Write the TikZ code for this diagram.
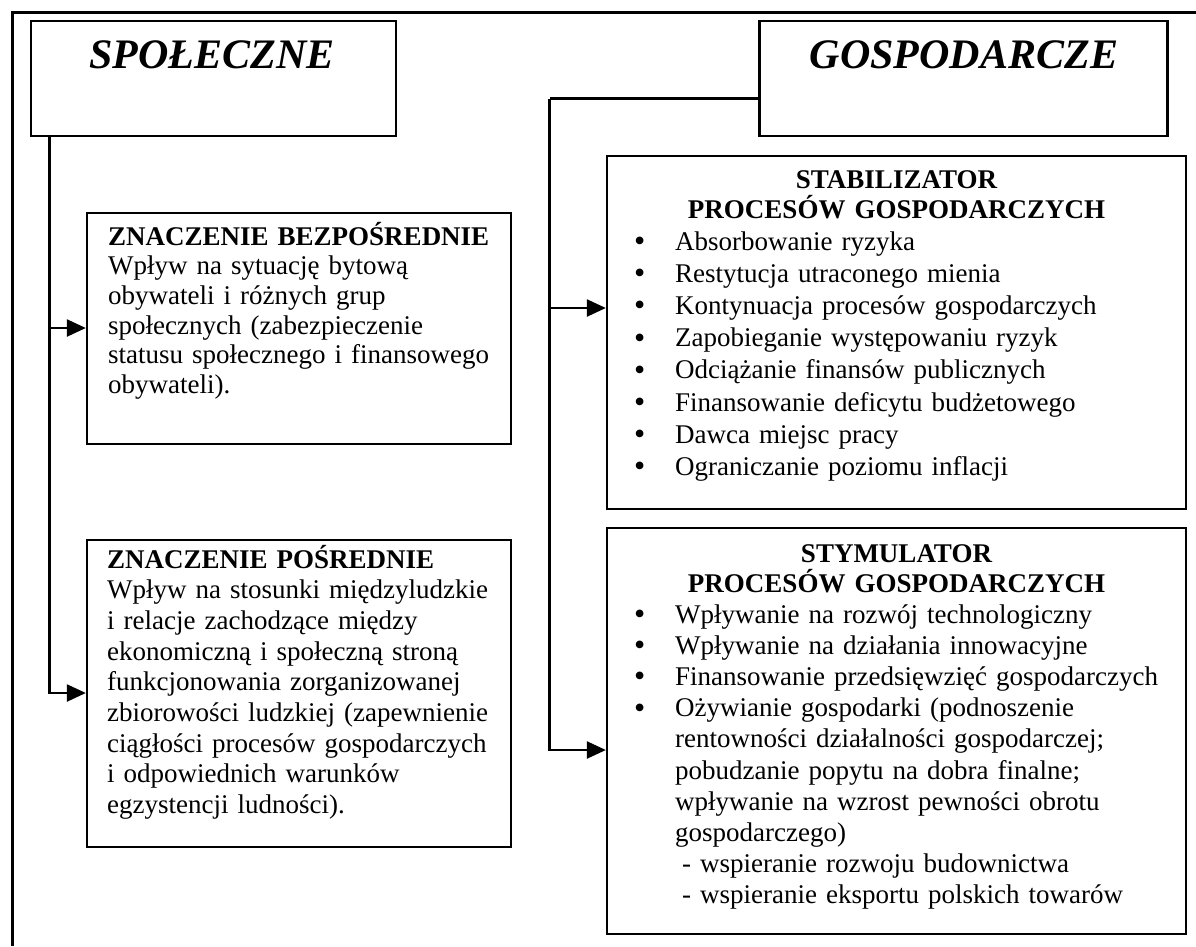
\documentclass[tikz,border=0pt]{standalone}
\usepackage{fontspec}
\setmainfont{Liberation Serif}
\usetikzlibrary{arrows.meta}
\newcommand\mybul{\makebox[41pt][l]{\fontsize{32}{31}\selectfont\raisebox{-1.5pt}{•}}}
\begin{document}
\begin{tikzpicture}[x=1pt,y=-1pt,
  ln/.style={line width=2.3pt},
  box/.style={draw, line width=2.3pt, inner sep=0pt},
  arr/.style={line width=2.3pt, -{Triangle[length=19pt,width=17pt]}},
  head/.style={font=\fontsize{42}{48}\selectfont\bfseries\itshape, inner sep=0pt, anchor=base},
  body/.style={font=\fontsize{27}{#1}\selectfont, inner sep=0pt, anchor=base west, align=left, text width=540pt},
  ttl/.style={font=\fontsize{27}{30}\selectfont\bfseries, inner sep=0pt, anchor=base, align=center, text width=560pt},
]
\useasboundingbox (0,0) rectangle (1196,946);
% outer frame (right and bottom edges lie outside the picture)
\coordinate (fbl) at (12.5,946);
\coordinate (ftl) at (12.5,12.5);
\coordinate (ftr) at (1196,12.5);
\draw[ln] (fbl) -- (ftl) -- (ftr);

% boxes
\node[box, minimum width=365pt, minimum height=115pt] (spol) at (213.3,78.5) {};
\node[box, minimum width=408pt, minimum height=115pt] (gosp) at (963.5,78.5) {};
\node[box, minimum width=424pt, minimum height=231pt] (bez) at (299,328.5) {};
\node[box, minimum width=424pt, minimum height=307pt] (pos) at (299,693.5) {};
\node[box, minimum width=579pt, minimum height=353pt] (stab) at (896.5,332.5) {};
\node[box, minimum width=579pt, minimum height=406pt] (sty) at (896.5,731) {};

% headers
\node[head] (spolt) at (212,68) {SPOŁECZNE};
\node[head] (gospt) at (964,68) {GOSPODARCZE};

% left texts
\node[body=29.7] (bezt) at (108,245) {\textbf{ZNACZENIE BEZPOŚREDNIE}\\
Wpływ na sytuację bytową\\
obywateli i różnych grup\\
społecznych (zabezpieczenie\\
statusu społecznego i finansowego\\
obywateli).};
\node[body=30.7] (post) at (107,568) {\textbf{ZNACZENIE POŚREDNIE}\\
Wpływ na stosunki międzyludzkie\\
i relacje zachodzące między\\
ekonomiczną i społeczną stroną\\
funkcjonowania zorganizowanej\\
zbiorowości ludzkiej (zapewnienie\\
ciągłości procesów gospodarczych\\
i odpowiednich warunków\\
egzystencji ludności).};

% right texts
\node[ttl] (stabt) at (896.5,188) {STABILIZATOR\\PROCESÓW GOSPODARCZYCH};
\node[body=32.2] (stabl) at (634,250) {\mybul Absorbowanie ryzyka\\
\mybul Restytucja utraconego mienia\\
\mybul Kontynuacja procesów gospodarczych\\
\mybul Zapobieganie występowaniu ryzyk\\
\mybul Odciążanie finansów publicznych\\
\mybul Finansowanie deficytu budżetowego\\
\mybul Dawca miejsc pracy\\
\mybul Ograniczanie poziomu inflacji};

\node[ttl] (styt) at (896.5,562) {STYMULATOR\\PROCESÓW GOSPODARCZYCH};
\node[body=31.2] (styl) at (634,623) {\mybul Wpływanie na rozwój technologiczny\\
\mybul Wpływanie na działania innowacyjne\\
\mybul Finansowanie przedsięwzięć gospodarczych\\
\mybul Ożywianie gospodarki (podnoszenie\\
\hspace*{41pt}rentowności działalności gospodarczej;\\
\hspace*{41pt}pobudzanie popytu na dobra finalne;\\
\hspace*{41pt}wpływanie na wzrost pewności obrotu\\
\hspace*{41pt}gospodarczego)\\
\hspace*{48pt}- wspieranie rozwoju budownictwa\\
\hspace*{48pt}- wspieranie eksportu polskich towarów};

% connectors left
\coordinate (lj) at (49.5,693);
\draw[ln] (spol.south -| lj) -- (lj);
\draw[arr] (spol.south -| lj) |- (bez.west |- 0,328);
\draw[arr] (spol.south -| lj) |- (pos.west |- 0,693);

% connectors right
\coordinate (rj) at (549.5,98.5);
\draw[ln] (gosp.west |- rj) -- (rj);
\draw[arr] (rj) |- (stab.west |- 0,308);
\draw[arr] (rj) |- (sty.west |- 0,750);
\end{tikzpicture}
\end{document}
